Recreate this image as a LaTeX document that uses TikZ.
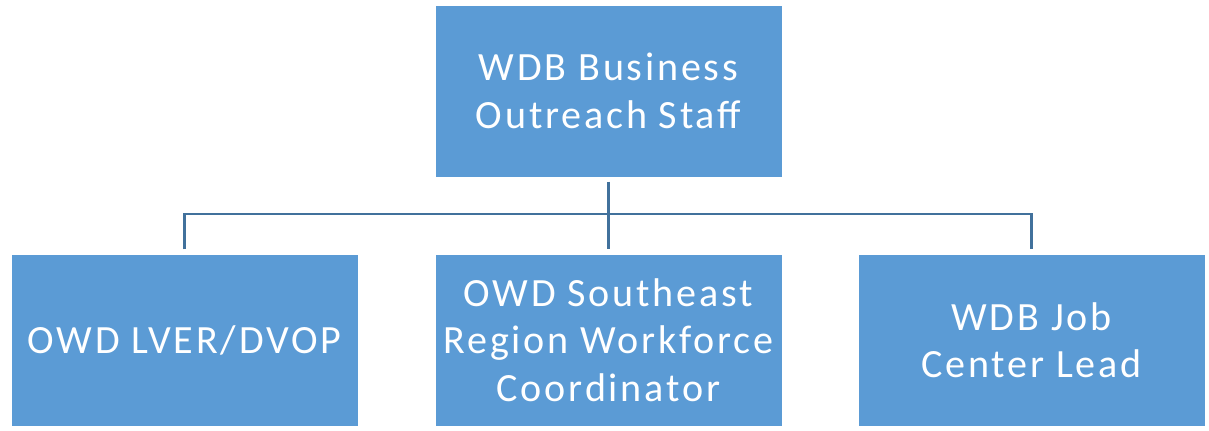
\documentclass[tikz,border=0pt]{standalone}
\usepackage{fontspec}
\setmainfont{Carlito}[LetterSpace=7]
\definecolor{boxblue}{HTML}{5B9BD5}
\definecolor{lineblue}{HTML}{41719C}
\tikzset{
  staff/.style={fill=boxblue, draw=white, line width=0.4pt, minimum width=8.675cm, minimum height=4.3cm,
    text=white, align=center, font=\fontsize{28.5}{33.8}\selectfont, inner sep=0pt},
  link/.style={draw=lineblue, line width=1.6pt}
}
\begin{document}
\begin{tikzpicture}[x=0.025cm,y=-0.025cm]
\useasboundingbox (0,0) rectangle (1209,430);
\node[staff] (top) at (608.5,91) {WDB Business\\Outreach Staff};
\node[staff] (lver) at (184.5,340) {OWD LVER/DVOP};
\node[staff] (coord) at (608.5,340) {OWD Southeast\\Region Workforce\\Coordinator};
\node[staff] (lead) at (1031.5,340) {WDB Job\\Center Lead};
\coordinate (bus) at (608.5,214);
\draw[link, shorten <=3] (top.south) -- (top.south |- bus);
\draw[link, shorten <=3, shorten >=3] (lver.north) -- (lver.north |- bus) -- (lead.north |- bus) -- (lead.north);
\draw[link, shorten >=3] (coord.north |- bus) -- (coord.north);
\end{tikzpicture}
\end{document}
